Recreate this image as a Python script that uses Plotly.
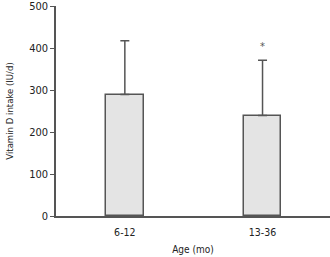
import plotly.graph_objects as go

categories = ["6-12", "13-36"]
means = [289, 239]
sd = [128, 132]
sig_marks = ["", "*"]
y_ticks = [0, 100, 200, 300, 400, 500]

font_family = "Liberation Sans Narrow, DejaVu Sans Condensed, Roboto Condensed, Arial Narrow, sans-serif"

fig = go.Figure()
fig.add_trace(go.Bar(
    x=categories, y=means, width=0.275,
    marker=dict(color="#e4e4e4", line=dict(color="#555555", width=1.5)),
    error_y=dict(type="data", symmetric=False, array=sd, arrayminus=[0, 0],
                 color="#555555", thickness=1.5, width=4.5),
    showlegend=False,
))
for c, m, s, mark in zip(categories, means, sd, sig_marks):
    if mark:
        fig.add_annotation(x=c, y=m + s, text=mark, showarrow=False, yshift=14,
                           font=dict(size=11, color="#555555", family=font_family))

fig.update_layout(
    width=330, height=257,
    margin=dict(l=56, r=0, t=6, b=41),
    paper_bgcolor="white", plot_bgcolor="white",
    font=dict(family=font_family, size=11, color="#222222"),
    bargap=0,
)
fig.update_xaxes(
    range=[-0.5, 1.49], showline=True, linecolor="#555555", linewidth=1.5,
    ticks="", showgrid=False, zeroline=False, automargin=False,
    ticklabelstandoff=6,
    title=dict(text="Age (mo)", font=dict(size=10), standoff=9),
    tickfont=dict(size=10.5),
)
fig.update_yaxes(
    range=[0, 500], tickvals=y_ticks, showline=True, linecolor="#555555", linewidth=1.5,
    ticks="outside", ticklen=4, tickcolor="#555555", showgrid=False, zeroline=False,
    automargin=False, ticklabeloverflow="allow",
    title=dict(text="Vitamin D intake (IU/d)", font=dict(size=9.5), standoff=14),
    tickfont=dict(size=11),
)
fig.write_html("out.html", config={"displayModeBar": False},
               post_script="document.body.style.margin='0';")
